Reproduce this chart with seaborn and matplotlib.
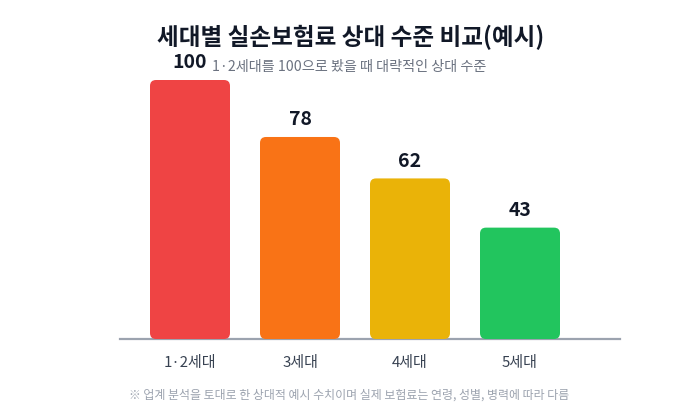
import matplotlib
matplotlib.use("Agg")
import matplotlib.pyplot as plt
import seaborn as sns
import pandas as pd
from matplotlib.patches import FancyBboxPatch
from matplotlib.transforms import IdentityTransform

generations = ["1·2세대", "3세대", "4세대", "5세대"]
levels = [100, 78, 62, 43]
bar_colors = ["#ef4444", "#f97316", "#eab308", "#22c55e"]

title = "세대별 실손보험료 상대 수준 비교(예시)"
subtitle = "1·2세대를 100으로 봤을 때 대략적인 상대 수준"
footnote = "※ 업계 분석을 토대로 한 상대적 예시 수치이며 실제 보험료는 연령, 성별, 병력에 따라 다름"

df = pd.DataFrame({"generation": generations, "level": levels})

sns.set_theme(style="white")
plt.rcParams["font.family"] = ["Noto Sans CJK KR", "DejaVu Sans"]

fig = plt.figure(figsize=(7, 4.2), dpi=100)
ax = fig.add_axes([120 / 700, 81 / 420, 500 / 700, 259 / 420])

sns.barplot(data=df, x="generation", y="level", hue="generation",
            palette=bar_colors, saturation=1, width=80 / 110, legend=False, ax=ax)

ax.set_xlim(-70 / 110, 430 / 110)
ax.set_ylim(0, 100)

for side in ["top", "right", "left"]:
    ax.spines[side].set_visible(False)
ax.spines["bottom"].set_color("#9ca3af")
ax.spines["bottom"].set_linewidth(1.6)
ax.set_xlabel("")
ax.set_ylabel("")
ax.set_yticks([])
ax.tick_params(axis="x", length=0, pad=12, labelsize=10.8, labelcolor="#374151")

# swap plain bars for rounded ones (drawn in pixel space)
fig.canvas.draw()
bars = list(ax.patches)
for bar, val in zip(bars, levels):
    x0, y0, w, h = bar.get_x(), bar.get_y(), bar.get_width(), bar.get_height()
    (px0, py0) = ax.transData.transform((x0, y0))
    (px1, py1) = ax.transData.transform((x0 + w, y0 + h))
    r = 6
    rounded = FancyBboxPatch((px0 + r, py0 + r), (px1 - px0) - 2 * r, (py1 - py0) - 2 * r,
                             boxstyle=f"round,pad={r}", transform=IdentityTransform(),
                             facecolor=bar.get_facecolor(), edgecolor="none",
                             clip_on=False, zorder=2)
    bar.set_visible(False)
    fig.patches.append(rounded)
    ax.annotate(f"{val}", (x0 + w / 2, val), xytext=(0, 8.5), textcoords="offset points",
                ha="center", va="baseline", fontsize=14, fontweight="bold",
                color="#111827", annotation_clip=False)

fig.text(0.501, 1 - 37 / 420, title, ha="center", va="center",
         fontsize=17, fontweight="bold", color="#111827")
fig.text(0.499, 1 - 67 / 420, subtitle, ha="center", va="center",
         fontsize=10.2, color="#6b7280")
fig.text(0.499, 1 - 395 / 420, footnote, ha="center", va="center",
         fontsize=8.6, color="#9ca3af")

fig.savefig("out.png", dpi=100)
